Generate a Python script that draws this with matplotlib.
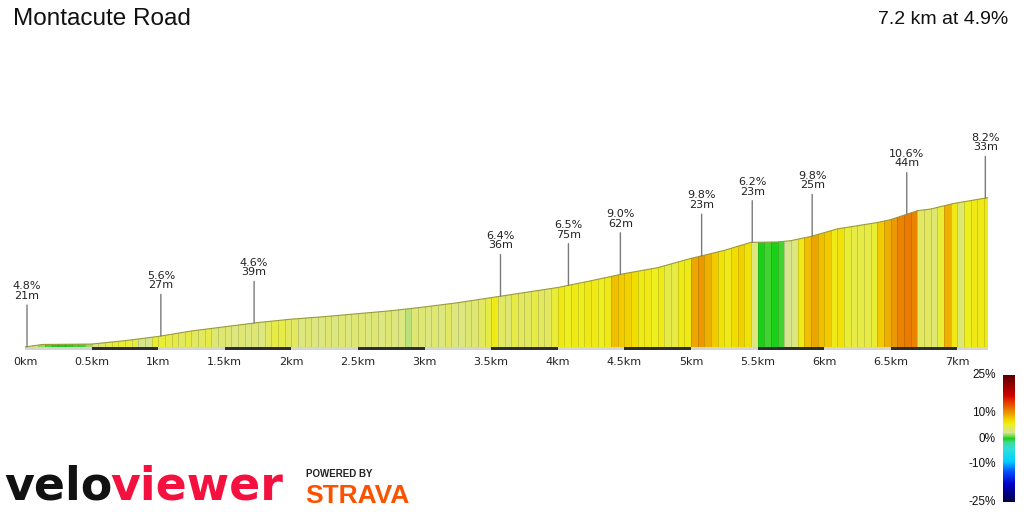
import numpy as np
import matplotlib
matplotlib.use("Agg")
import matplotlib.pyplot as plt
from matplotlib import font_manager
from matplotlib.colors import LinearSegmentedColormap, Normalize
from matplotlib.cm import ScalarMappable

# elevation profile (km, metres above start)
dist_km = [0, 0.13, 0.5, 0.75, 1.0, 1.25, 1.5, 1.75, 2.0, 2.25, 2.5, 2.75, 3.0,
           3.25, 3.5, 3.75, 4.0, 4.25, 4.5, 4.75, 5.0, 5.25, 5.45, 5.65, 5.75,
           5.9, 6.1, 6.4, 6.5, 6.7, 6.8, 6.97, 7.23]
elev_m = [0, 6, 7, 15, 25, 38, 48, 58, 66, 72, 79, 86, 95,
          105, 117, 129, 141, 157, 174, 188, 210, 229, 248, 249, 252,
          262, 280, 295, 302, 323, 327, 340, 354]

# gradient (%) of each 50 m stripe
grades = [
    3, 3, 1.5, 0.5, 0, 0, 0, 0.5, 0.5, 1.5,
    3, 3.5, 4.5, 5, 5, 5, 4.5, 2.5, 2.5, 5,
    5, 4.5, 4.5, 4, 4.5, 4, 4, 4.5, 3.5, 3.5,
    3.5, 3, 3.5, 3, 3.5, 3, 4, 4.5, 4.5, 4,
    4, 3, 3.5, 3, 3, 3.5, 3, 3.5, 3, 3.5,
    3.5, 3, 3.5, 3, 3.5, 3, 3, 2, 3.5, 3.5,
    3, 3.5, 3, 4, 3, 3, 3.5, 3.5, 4, 4.5,
    6, 4, 3.5, 4.5, 4, 4, 4.5, 4, 4, 5,
    6, 5.5, 6, 5.5, 6, 6, 5.5, 6, 8.5, 8,
    7.5, 7, 6, 6, 5.5, 6, 4.5, 4.5, 6, 6,
    9.5, 10, 9, 8, 6.5, 6, 7, 7.5, 6.5, 3,
    0, 0.5, 0, 0.5, 2.5, 3, 6, 8.5, 9.5, 8.5,
    8, 6, 6.5, 5, 4.5, 4.5, 4.5, 5, 8, 9,
    10, 11, 11.5, 11, 4, 4, 3.5, 5, 9, 6,
    3.5, 5.5, 6, 6, 6,
]
STRIPE = 0.05

# climb markers
marker_km = [0.015, 1.02, 1.72, 3.57, 4.08, 4.47, 5.08, 5.46, 5.91, 6.62, 7.21]
marker_txt = ["4.8%\n21m", "5.6%\n27m", "4.6%\n39m", "6.4%\n36m", "6.5%\n75m",
              "9.0%\n62m", "9.8%\n23m", "6.2%\n23m", "9.8%\n25m", "10.6%\n44m",
              "8.2%\n33m"]

tick_km = [0, 0.5, 1, 1.5, 2, 2.5, 3, 3.5, 4, 4.5, 5, 5.5, 6, 6.5, 7]
tick_lbl = ["0km", "0.5km", "1km", "1.5km", "2km", "2.5km", "3km", "3.5km",
            "4km", "4.5km", "5km", "5.5km", "6km", "6.5km", "7km"]

cbar_ticks = [-25, -10, 0, 10, 25]

# gradient colour scale
cmap_nodes = [(-25, "#000045"), (-18, "#0000c8"), (-13, "#0050ff"), (-9, "#00d0ff"),
              (-4, "#30e0d8"), (-1.5, "#40d890"), (0, "#10d010"), (1, "#70d850"),
              (2.5, "#d8e690"), (4, "#e2e860"), (5.5, "#eef020"), (7, "#f2dc00"),
              (8.5, "#f0c000"), (10, "#ec9a00"), (11.5, "#e87a00"), (14, "#e84000"),
              (17, "#d00000"), (25, "#580000")]
cmap = LinearSegmentedColormap.from_list(
    "grad", [((g + 25) / 50, c) for g, c in cmap_nodes])
norm = Normalize(-25, 25)

names = {f.name for f in font_manager.fontManager.ttflist}
sans = "Liberation Sans" if "Liberation Sans" in names else "DejaVu Sans"

fig = plt.figure(figsize=(10.24, 5.12), dpi=100)
M_PER_PX = 2.37
ax = fig.add_axes([25 / 1024, 1 - 353 / 512, (988 - 25) / 1024, 293 / 512])
ax.set_xlim(0, 7.23)
ax.set_ylim(-6 * M_PER_PX, 287 * M_PER_PX)

# coloured stripes clipped to the profile
poly = ax.fill_between(dist_km, elev_m, 0, color="none", lw=0)
clip = poly.get_paths()[0]
xs = np.arange(len(grades)) * STRIPE
cols = cmap(norm(np.array(grades)))
edges = cols.copy()
edges[:, :3] *= 0.85
bars = ax.bar(xs, 400, width=STRIPE, align="edge", color=cols,
              edgecolor=edges, linewidth=0.6)
for b in bars:
    b.set_clip_path(clip, ax.transData)
ax.plot(dist_km, elev_m, color="#9a9a3a", lw=0.8)

# distance bar under the profile
seg = np.arange(0, 7.5, 0.5)
seg_col = ["#d4d4d4" if i % 2 == 0 else "#2e2e2e" for i in range(len(seg))]
ax.bar(seg, -3 * M_PER_PX, bottom=0, width=0.5, align="edge",
       color=seg_col, lw=0)

for km, txt in zip(marker_km, marker_txt):
    y = np.interp(km, dist_km, elev_m)
    ax.annotate(txt, xy=(km, y), xytext=(0, 33), textcoords="offset points",
                ha="center", va="bottom", fontsize=8, linespacing=0.95,
                color="#222222", annotation_clip=False,
                arrowprops=dict(arrowstyle="-", color="#7a7a7a", lw=1,
                                shrinkA=1, shrinkB=0))

ax.set_xticks(tick_km, tick_lbl, fontsize=8, color="#222222")
ax.tick_params(axis="x", length=0, pad=3)
ax.set_yticks([])
for s in ax.spines.values():
    s.set_visible(False)

fig.text(13 / 1024, 1 - 19 / 512, "Montacute Road", fontsize=17.5,
         family=sans, va="center", ha="left", color="#111111")
fig.text(1008 / 1024, 1 - 19 / 512, "7.2 km at 4.9%", fontsize=14,
         family=sans, va="center", ha="right", color="#111111")

# colour bar, labels written on its left
cax = fig.add_axes([1003 / 1024, 1 - 502 / 512, 12 / 1024, 127 / 512])
cb = fig.colorbar(ScalarMappable(norm=norm, cmap=cmap), cax=cax)
cb.outline.set_visible(False)
cb.set_ticks([])
cax.minorticks_off()
for t in cbar_ticks:
    cax.text(-0.6, t, f"{t}%", transform=cax.get_yaxis_transform(),
             ha="right", va="center", fontsize=8.5, family=sans,
             color="#111111")

# logo
fig.text(4 / 1024, 1 - 500 / 512, "velo", fontsize=33, family="DejaVu Sans",
         weight="bold", color="#111111", va="baseline", ha="left")
fig.text(110 / 1024, 1 - 500 / 512, "viewer", fontsize=33, family="DejaVu Sans",
         weight="bold", color="#f5113f", va="baseline", ha="left")
fig.text(306 / 1024, 1 - 477 / 512, "POWERED BY", fontsize=7, family=sans,
         weight="bold", color="#222222", va="baseline", ha="left")
fig.text(305 / 1024, 1 - 503 / 512, "STRAVA", fontsize=19, family=sans,
         weight="bold", color="#fc5200", va="baseline", ha="left")

fig.savefig("out.png", dpi=100)
